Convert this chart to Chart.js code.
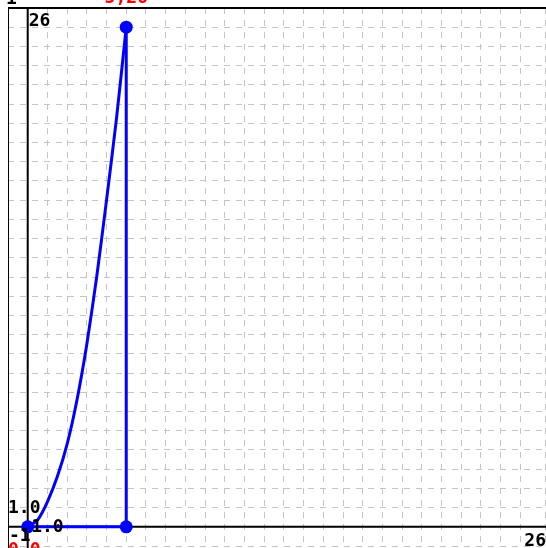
<!DOCTYPE html>
<html>
<head>
<meta charset="utf-8">
<script src="https://cdn.jsdelivr.net/npm/chart.js@4/dist/chart.umd.min.js"></script>
<style>
  html, body { margin: 0; padding: 0; background: #fff; }
  canvas { display: block; }
</style>
</head>
<body>
<canvas id="chart" width="546" height="548"></canvas>
<script>
// Curve values
const curveX = [0, 0.5, 1, 1.5, 2, 2.5, 3, 3.5, 4, 4.5, 5];
const curveY = [0, 0.35, 1.3, 2.6, 4.3, 6.6, 9.5, 13, 17, 21.2, 26];

// Closing path with the three markers
const pathX = [5, 5, 0];
const pathY = [26, 0, 0];

// Axis ranges and the labels drawn on the axes
const xRange = [-1, 26.25];
const yRange = [-1, 27];
const topLabel = "26";
const yTickLabel = "1.0";
const xTickLabel = "1.0";
const minLabel = "-1";
const rightLabel = "26";
const cornerLabel = "1";
const peakLabel = "5,26";
const originLabel = "0,0";

const toPoints = (xs, ys) => xs.map((x, i) => ({ x: x, y: ys[i] }));

const FONT = "bold 18px 'DejaVu Sans Mono', monospace";

// Frame, zero axes and text labels
const overlay = {
  id: "overlay",
  beforeDatasetsDraw(chart) {
    const { ctx, chartArea, scales } = chart;
    const x0 = scales.x.getPixelForValue(0);
    const y0 = scales.y.getPixelForValue(0);
    ctx.save();
    ctx.strokeStyle = "#000";
    // frame
    ctx.lineWidth = 2;
    ctx.beginPath();
    ctx.moveTo(chartArea.left, chartArea.top);
    ctx.lineTo(chart.width, chartArea.top);
    ctx.stroke();
    ctx.lineWidth = 1;
    ctx.beginPath();
    ctx.moveTo(chartArea.left + 0.5, chartArea.top);
    ctx.lineTo(chartArea.left + 0.5, chart.height);
    ctx.stroke();
    // zero axes
    ctx.lineWidth = 2;
    ctx.beginPath();
    ctx.moveTo(x0, chartArea.top);
    ctx.lineTo(x0, chart.height);
    ctx.moveTo(chartArea.left, y0);
    ctx.lineTo(chart.width, y0);
    ctx.stroke();
    ctx.restore();
  },
  afterDraw(chart) {
    const { ctx, scales } = chart;
    const px = v => scales.x.getPixelForValue(v);
    const py = v => scales.y.getPixelForValue(v);
    ctx.save();
    ctx.font = FONT;
    ctx.fillStyle = "#000";

    ctx.textAlign = "left";
    ctx.textBaseline = "alphabetic";
    ctx.fillText(topLabel, px(0) + 1, py(26) - 1);
    ctx.fillText(cornerLabel, 6, 4);

    ctx.textBaseline = "middle";
    ctx.fillText(yTickLabel, px(-1), py(1) + 1);
    ctx.textAlign = "center";
    ctx.fillText(xTickLabel, px(1), py(0) + 1);
    ctx.textAlign = "left";
    ctx.fillText(minLabel, px(-1) + 1, py(-0.5));

    ctx.textAlign = "right";
    ctx.textBaseline = "alphabetic";
    ctx.fillText(rightLabel, chart.width, py(-1));

    ctx.fillStyle = "#ff0000";
    ctx.textAlign = "center";
    ctx.fillText(peakLabel, px(5), 3);
    ctx.textAlign = "left";
    ctx.fillText(originLabel, px(-1), 555);
    ctx.restore();
  }
};

const axis = (range, horizontal) => ({
  type: "linear",
  min: range[0],
  max: range[1],
  ticks: { display: false, stepSize: 1, autoSkip: false },
  grid: { color: "#c4c4c4", lineWidth: 1, drawTicks: false },
  border: { display: false, dash: [6, 6] },
  // no room kept for the hidden axes
  afterFit: s => { if (horizontal) s.height = 0; else s.width = 0; }
});

new Chart(document.getElementById("chart"), {
  type: "scatter",
  data: {
    datasets: [
      {
        data: toPoints(curveX, curveY),
        showLine: true,
        borderColor: "#0000ff",
        borderWidth: 3,
        pointRadius: 0,
        tension: 0.2
      },
      {
        data: toPoints(pathX, pathY),
        showLine: true,
        borderColor: "#0000ff",
        backgroundColor: "#0000ff",
        borderWidth: 3,
        pointRadius: 6.5,
        pointBorderWidth: 0
      }
    ]
  },
  plugins: [overlay],
  options: {
    responsive: false,
    animation: false,
    devicePixelRatio: 1,
    layout: { autoPadding: false, padding: { left: 8, top: 8, right: 1, bottom: 2 } },
    plugins: {
      legend: { display: false },
      tooltip: { enabled: false }
    },
    scales: {
      x: axis(xRange, true),
      y: axis(yRange, false)
    }
  }
});
</script>
</body>
</html>
